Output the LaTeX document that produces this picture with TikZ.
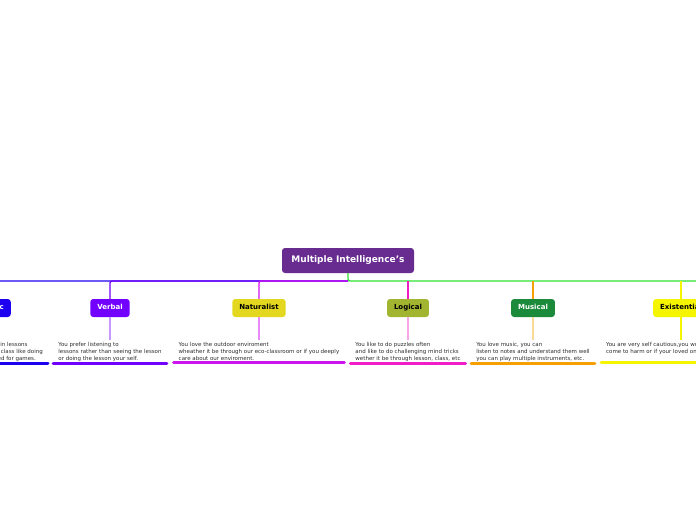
\documentclass[tikz,border=0pt]{standalone}
\usepackage{fontspec}
\setmainfont{DejaVu Sans}
\usetikzlibrary{positioning}

\definecolor{rootpurple}{RGB}{104,44,144}
\definecolor{kinblue}{RGB}{30,0,240}
\definecolor{verbviolet}{RGB}{114,0,255}
\definecolor{natyellow}{RGB}{227,216,31}
\definecolor{natline}{RGB}{206,20,238}
\definecolor{logolive}{RGB}{162,181,48}
\definecolor{logline}{RGB}{240,30,200}
\definecolor{musgreen}{RGB}{27,138,58}
\definecolor{musline}{RGB}{245,160,0}
\definecolor{exyellow}{RGB}{245,245,0}
\definecolor{hubgreen}{RGB}{48,224,48}
\definecolor{notegray}{RGB}{45,45,45}

\tikzset{
  topic/.style={rounded corners=3pt, minimum height=18pt, inner xsep=7pt,
    text height=5pt, text depth=1.5pt,
    font=\fontsize{7}{8}\selectfont\bfseries},
  note/.style={align=left, inner xsep=5pt, inner ysep=2.5pt, text=notegray,
    font=\fontsize{5.5}{6.6}\selectfont},
  link/.style={line width=1.3pt, rounded corners=2pt},
  stem/.style={line width=1.2pt},
  underline/.style={line width=3pt, line cap=round},
}

\begin{document}
\begin{tikzpicture}[x=1pt, y=-1pt]
    \useasboundingbox (0,0) rectangle (696,520);
    \clip (0,0) rectangle (696,520);

    % central topic
    \node[topic, fill=rootpurple, text=white, minimum width=132pt, minimum height=25pt,
      font=\fontsize{9}{10}\selectfont\bfseries] (root) at (348,260.5) {Multiple Intelligence's};
    \coordinate (hub) at (348,281);
    \coordinate (rim) at (696,281);

    % branches
    \node[topic, fill=kinblue, text=white, anchor=east] (kin) at (11,308) {Kinesthetic};
    \node[topic, fill=verbviolet, text=white] (verbal) at (110,308) {Verbal};
    \node[topic, fill=natyellow] (natur) at (259,308) {Naturalist};
    \node[topic, fill=logolive] (logic) at (408,308) {Logical};
    \node[topic, fill=musgreen, text=white] (music) at (533,308) {Musical};
    \node[topic, fill=exyellow] (exist) at (681,308) {Existential};

    \draw[link, kinblue] (hub) -| (kin.north);
    \draw[link, verbviolet] (hub) -| (verbal.north);
    \draw[link, natline] (hub) -| (natur.north);
    \draw[link, hubgreen] (root.south) -- (hub) -- (rim);
    \draw[stem, logline] (logic.north) -- (logic.north |- hub);
    \draw[stem, musline] (music.north) -- (music.north |- hub);
    \draw[stem, exyellow] (exist.north) -- (exist.north |- hub);

    % notes
    \node[note, anchor=north east] (kinnote) at (48,340)
      {You prefer to move in lessons\\and being active in class like doing\\sports or things used for games.};
    \node[note, anchor=north] (verbalnote) at (110,340)
      {You prefer listening to\\lessons rather than seeing the lesson\\or doing the lesson your self.};
    \node[note, anchor=north] (naturnote) at (259,340)
      {You love the outdoor enviroment\\wheather it be through our eco-classroom or if you deeply\\care about our enviroment.};
    \node[note, anchor=north] (logicnote) at (408,340)
      {You like to do puzzles often\\and like to do challenging mind tricks\\wether it be through lesson, class, etc};
    \node[note, anchor=north] (musicnote) at (533,340)
      {You love music, you can\\listen to notes and understand them well\\you can play multiple instruments, etc.};
    \node[note, anchor=north west] (existnote) at (601,340)
      {You are very self cautious,you worry if you will\\come to harm or if your loved ones will.\\};
    \coordinate (existtop) at (exist.south |- existnote.north);

    \draw[stem, verbviolet!40] (verbal.south) -- (verbalnote.north);
    \draw[stem, natline!50] (natur.south) -- (naturnote.north);
    \draw[stem, logline!40] (logic.south) -- (logicnote.north);
    \draw[stem, musline!40] (music.south) -- (musicnote.north);
    \draw[stem, exyellow] (exist.south) -- (existtop);

    \draw[underline, kinblue] (kinnote.south west) -- (kinnote.south east);
    \draw[underline, verbviolet] (verbalnote.south west) -- (verbalnote.south east);
    \draw[underline, natline] (naturnote.south west) -- (naturnote.south east);
    \draw[underline, logline] (logicnote.south west) -- (logicnote.south east);
    \draw[underline, musline] (musicnote.south west) -- (musicnote.south east);
    \draw[underline, exyellow] (existnote.south west) -- (existnote.south east);
\end{tikzpicture}
\end{document}
